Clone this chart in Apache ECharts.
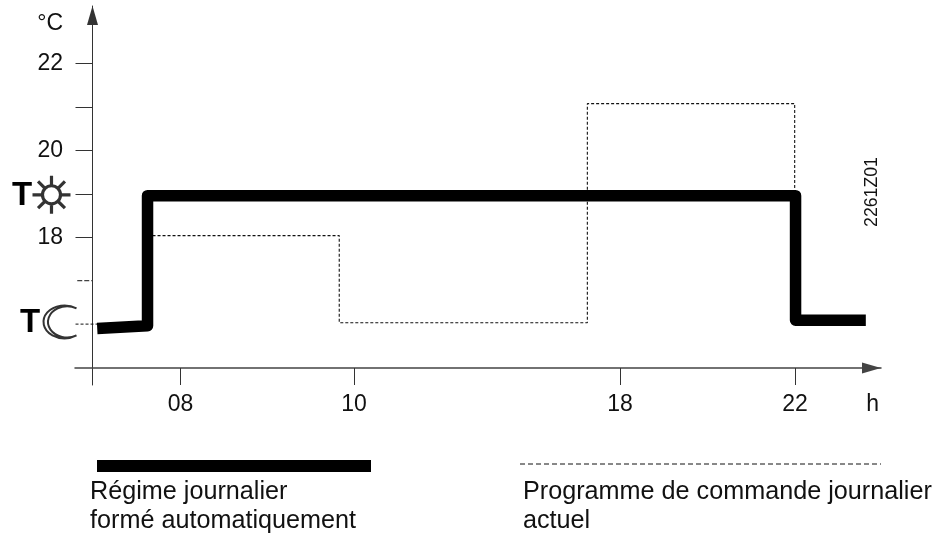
<!DOCTYPE html>
<html><head><meta charset="utf-8">
<style>html,body{margin:0;padding:0;background:#fff}#c{width:943px;height:533px}</style>
<script src="https://cdn.jsdelivr.net/npm/echarts@6/dist/echarts.min.js"></script>
</head><body><div id="c"></div>
<script>
// Schematic time axis: the hour marks are not evenly spaced, so each has a position on the axis.
const hourPositions = [8, 10, 13.066, 15.084];
const hourLabels = ['08', '10', '18', '22'];
const unitPosition = 15.98;
const unitLabel = 'h';
const solidTempTicks = [18, 19, 20, 21, 22];
const labelledTemps = [18, 20, 22];
const dashedTempTicks = [16, 17];
const regimeX = [7.04, 7.62, 7.62, 15.09, 15.09, 15.9];
const regimeY = [15.9, 15.96, 18.96, 18.96, 16.09, 16.09];
const programX = [7.62, 9.83, 9.83, 12.69, 12.69, 15.08, 15.08];
const programY = [18.04, 18.04, 16.03, 16.03, 21.08, 21.08, 19];
const legendRegime = 'Régime journalier\nformé automatiquement';
const legendProgram = 'Programme de commande journalier\nactuel';
const sunPoint = [6.513, 18.98];
const moonPoint = [6.611, 16.05];
const FONT = '"Liberation Sans", Arial, sans-serif';
const rays = [0,45,90,135,180,225,270,315].map(a => {
  const r = a * Math.PI / 180;
  return `M${20+10*Math.cos(r)} ${20+10*Math.sin(r)}L${20+20*Math.cos(r)} ${20+20*Math.sin(r)}`;
}).join('');
const sunPath = 'path://M29.5 20A9.5 9.5 0 1 1 10.5 20A9.5 9.5 0 1 1 29.5 20Z' + rays;
const moonPath = 'path://M33 3A17 16.5 0 1 0 33 30A15.5 15.5 0 1 1 33 3Z';
const pair = (xs, ys) => xs.map((x, i) => [x, ys[i]]);
const chart = echarts.init(document.getElementById('c'), null, {renderer: 'canvas'});
chart.setOption({
  animation: false,
  backgroundColor: '#fff',
  grid: {left: 75, top: 6, width: 806, height: 379},
  xAxis: {
    type: 'value', min: 6.784, max: 16.075, offset: -17,
    axisLine: {show: true, onZero: false, symbol: ['none', 'triangle'], symbolSize: [11, 19], symbolOffset: [0, -9.5], lineStyle: {color: '#444', width: 1.5}},
    axisTick: {show: true, length: 17, customValues: hourPositions, lineStyle: {color: '#333', width: 1}},
    axisLabel: {
      show: true, margin: 25, fontSize: 23, fontFamily: FONT, color: '#111',
      customValues: hourPositions.concat([unitPosition]),
      formatter: v => v === unitPosition ? unitLabel : hourLabels[hourPositions.indexOf(v)]
    },
    splitLine: {show: false}
  },
  yAxis: {
    type: 'value', min: 14.597, max: 23.33, offset: -17.5,
    axisLine: {show: true, onZero: false, symbol: ['none', 'triangle'], symbolSize: [11, 19], symbolOffset: [0, -9.5], lineStyle: {color: '#333', width: 1}},
    axisTick: {show: true, length: 17, customValues: solidTempTicks, lineStyle: {color: '#333', width: 1}},
    axisLabel: {show: true, margin: 29.5, fontSize: 23, fontFamily: FONT, color: '#111', customValues: labelledTemps},
    splitLine: {show: false}
  },
  series: [
    {type: 'line', name: 'tick16', data: [[6.79, dashedTempTicks[0]], [7.04, dashedTempTicks[0]]], symbol: 'none', silent: true,
     lineStyle: {color: '#111', width: 1, type: [3, 2]}},
    {type: 'line', name: 'tick17', data: [[6.81, dashedTempTicks[1]], [6.98, dashedTempTicks[1]]], symbol: 'none', silent: true,
     lineStyle: {color: '#111', width: 1, type: [5, 2]}},
    {type: 'line', name: 'Programme', data: pair(programX, programY), symbol: 'none', z: 2,
     lineStyle: {color: '#111', width: 1.1, type: [3, 2]}},
    {type: 'line', name: 'Régime', data: pair(regimeX, regimeY), symbol: 'none', z: 3,
     lineStyle: {color: '#000', width: 11.5, join: 'round', cap: 'butt'}},
    {type: 'scatter', name: 'sun', data: [sunPoint], symbol: sunPath, symbolSize: 38, clip: false, silent: true, z: 4,
     itemStyle: {color: '#fff', borderColor: '#000', borderWidth: 3.2}},
    {type: 'scatter', name: 'moon', data: [moonPoint], symbol: moonPath, symbolSize: [33, 33], clip: false, silent: true, z: 4,
     itemStyle: {color: '#fff', borderColor: '#000', borderWidth: 2}}
  ],
  graphic: [
    {type: 'text', x: 63, y: 24, style: {text: '°C', font: '23px ' + FONT, fill: '#111', textAlign: 'right', textVerticalAlign: 'middle'}},
    {type: 'text', x: 22, y: 196, style: {text: 'T', font: 'bold 33px ' + FONT, fill: '#000', textAlign: 'center', textVerticalAlign: 'middle'}},
    {type: 'text', x: 30, y: 323, style: {text: 'T', font: 'bold 33px ' + FONT, fill: '#000', textAlign: 'center', textVerticalAlign: 'middle'}},
    {type: 'text', x: 872.5, y: 192, rotation: Math.PI / 2, style: {text: '2261Z01', font: '17.7px ' + FONT, fill: '#111', textAlign: 'center', textVerticalAlign: 'middle'}},
    {type: 'rect', shape: {x: 97, y: 460, width: 274, height: 12}, style: {fill: '#000'}},
    {type: 'line', shape: {x1: 520, y1: 464, x2: 881, y2: 464}, style: {stroke: '#111', lineWidth: 1, lineDash: [5, 3]}},
    {type: 'text', x: 90, y: 478, style: {text: legendRegime, font: '25.2px ' + FONT, lineHeight: 29, fill: '#111'}},
    {type: 'text', x: 523, y: 478, style: {text: legendProgram, font: '25.2px ' + FONT, lineHeight: 29, fill: '#111'}}
  ]
});
</script></body></html>
